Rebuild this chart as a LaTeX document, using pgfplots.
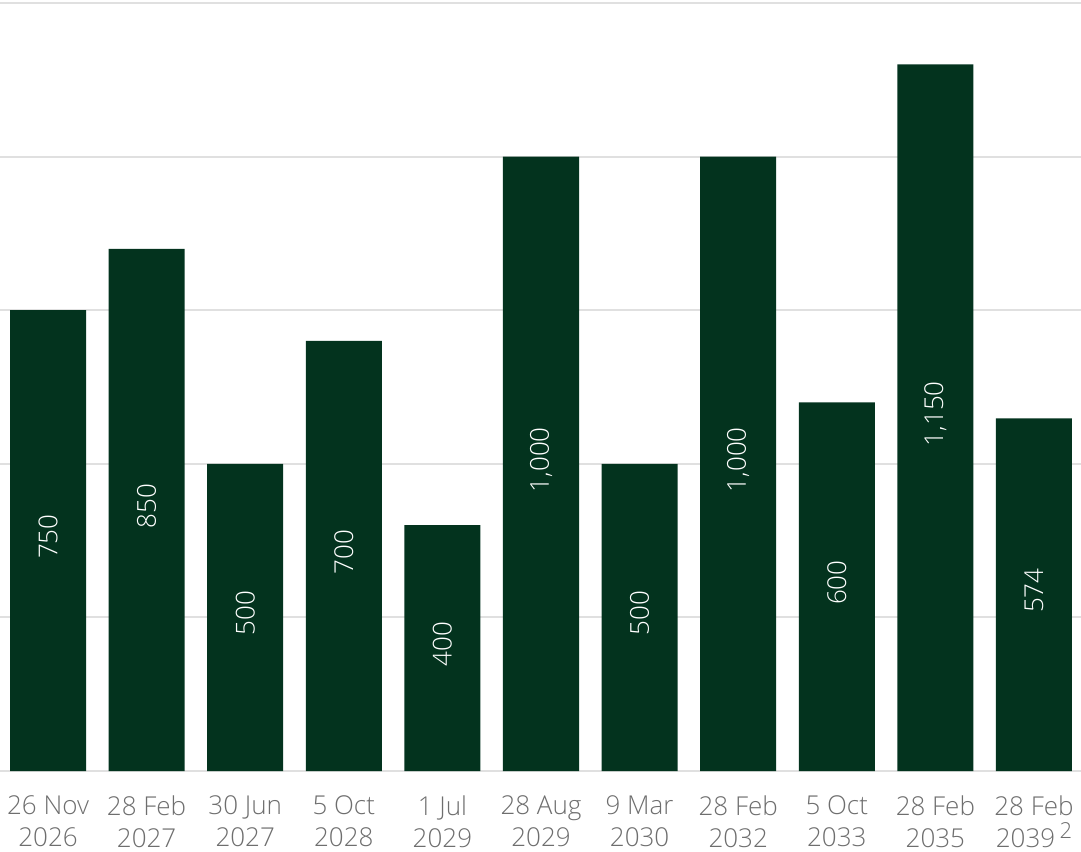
\documentclass[border=0pt]{standalone}
\usepackage{pgfplots}
\pgfplotsset{compat=1.18}
\usepackage{pgfplotstable}
\usepackage{fontspec}
\setmainfont{Open Sans}
\newfontfamily\lightfont{Open Sans Light}

\definecolor{bargreen}{HTML}{03331E}
\definecolor{labelgray}{HTML}{6E6E6E}
\definecolor{gridgray}{HTML}{E0E0E0}

% maturity profile (EUR m)
\pgfplotstableread{
x  y
0  750
1  850
2  500
3  700
4  400
5  1000
6  500
7  1000
8  600
9  1150
10 574
}\maturities

\begin{document}
\begin{tikzpicture}
\begin{axis}[
  at={(0,0)}, anchor=south west,
  scale only axis,
  width=540.5pt, height=384pt,
  xmin=-0.487, xmax=10.477,
  ymin=0, ymax=1250,
  axis line style={draw=none},
  major tick length=0pt,
  ytick={0,250,...,1250},
  yticklabels={},
  ymajorgrids,
  grid style={gridgray, line width=1pt},
  xtick={0,...,10},
  xticklabels={
    26 Nov\\2026, 28 Feb\\2027, 30 Jun\\2027, 5 Oct\\2028, 1 Jul\\2029,
    28 Aug\\2029, 9 Mar\\2030, 28 Feb\\2032, 5 Oct\\2033, 28 Feb\\2035,
    28 Feb\\2039\,\raisebox{0.6ex}{\fontsize{11}{11}\selectfont 2}},
  xticklabel style={align=center, anchor=north, inner sep=0pt, yshift=-12pt,
    text=labelgray, font=\lightfont\fontsize{13}{16}\selectfont},
  /pgf/number format/1000 sep={,},
  /pgf/number format/assume math mode=true,
  clip=false,
]
\addplot[ybar, bar width=38pt, fill=bargreen, draw=none] table[x=x, y=y] {\maturities};
% value labels placed halfway up each bar
\addplot[only marks, mark=none,
  point meta=\thisrow{y},
  nodes near coords,
  every node near coord/.append style={rotate=90, anchor=center, text=white,
    font=\lightfont\fontsize{13}{14}\selectfont, xshift=2pt}]
  table[x=x, y expr=\thisrow{y}/2] {\maturities};
\end{axis}
\pgfresetboundingbox
\path (0,-40pt) rectangle (540.5pt,385.5pt);
\end{tikzpicture}
\end{document}
